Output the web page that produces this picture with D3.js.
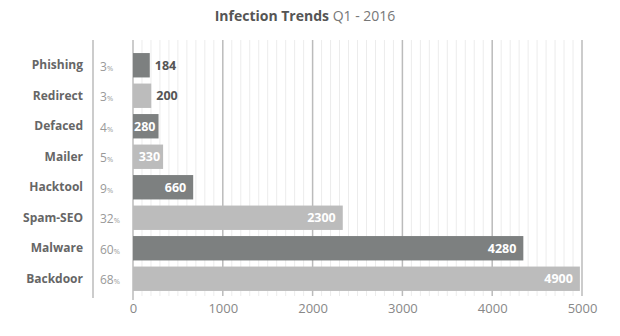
<!DOCTYPE html>
<html><head><meta charset="utf-8">
<script src="https://cdn.jsdelivr.net/npm/d3@7"></script>
<style>body{margin:0;background:#fff;font-family:"Open Sans",sans-serif;}</style>
</head><body><svg id="c" width="620" height="336"></svg>
<script>
const categories = ["Phishing","Redirect","Defaced","Mailer","Hacktool","Spam-SEO","Malware","Backdoor"];
const values = [184,200,280,330,660,2300,4280,4900];
const percents = [3,3,4,5,9,32,60,68];
const xTicks = [0,1000,2000,3000,4000,5000];

const svg = d3.select("#c");
const x = d3.scaleLinear().domain([0,5000]).range([133,582]);
const xb = d3.scaleLinear().domain([0,5000]).range([133,589]);
const y = d3.scaleBand().domain(categories).range([50,294]).paddingInner(0.2).paddingOuter(0.1);
const colors = ["#7d8080","#bcbcbc"];

// title
const t = svg.append("text").attr("x",305).attr("y",21).attr("text-anchor","middle")
  .style("font-size","14px").style("fill","#555");
t.append("tspan").style("font-weight","bold").text("Infection Trends");
t.append("tspan").style("fill","#777").text(" Q1 - 2016");

// minor gridlines
const minor = d3.range(100,5000,100).filter(v=>v%1000!==0);
svg.append("g").selectAll("line").data(minor).join("line")
  .attr("x1",d=>x(d)).attr("x2",d=>x(d)).attr("y1",40).attr("y2",296)
  .attr("stroke","#ececec").attr("stroke-width",1);

// major gridlines
svg.append("g").selectAll("line").data(xTicks).join("line")
  .attr("x1",d=>x(d)).attr("x2",d=>x(d)).attr("y1",40).attr("y2",d=>d===0?300:296)
  .attr("stroke","#bbb").attr("stroke-width",1.5);

// left separator line
svg.append("line").attr("x1",93).attr("x2",93).attr("y1",40).attr("y2",298)
  .attr("stroke","#bbb").attr("stroke-width",1.5);

// x axis labels
const xAxis = d3.axisBottom(x).tickValues(xTicks).tickSize(0).tickPadding(0).tickFormat(d3.format("d"));
const ax = svg.append("g").attr("transform","translate(0,301)").call(xAxis);
ax.select(".domain").remove();
ax.selectAll("text").style("font-size","13px").style("fill","#888").attr("dy","0.9em")
  .style("font-family","'Open Sans',sans-serif");

// bars
svg.append("g").selectAll("rect").data(values).join("rect")
  .attr("x",xb(0)).attr("y",(d,i)=>y(categories[i]))
  .attr("width",d=>xb(d)-xb(0)).attr("height",y.bandwidth())
  .attr("fill",(d,i)=>colors[i%2]);

// category labels
svg.append("g").selectAll("text").data(categories).join("text")
  .attr("x",83).attr("y",d=>y(d)+y.bandwidth()/2).attr("dy","0.35em")
  .attr("text-anchor","end").style("font-size","12px").style("font-weight","bold").style("fill","#666")
  .text(d=>d);

// percent labels
const pl = svg.append("g").selectAll("text").data(percents).join("text")
  .attr("x",100).attr("y",(d,i)=>y(categories[i])+y.bandwidth()/2).attr("dy","0.35em")
  .style("fill","#999");
pl.append("tspan").style("font-size","12px").text(d=>d);
pl.append("tspan").style("font-size","7.5px").text("%");

// value labels
svg.append("g").selectAll("text").data(values).join("text")
  .attr("x",d=> d<250 ? xb(d)+5 : xb(d)-(d<500?3:7))
  .attr("y",(d,i)=>y(categories[i])+y.bandwidth()/2).attr("dy","0.36em")
  .attr("text-anchor",d=> d<250 ? "start":"end")
  .style("font-size","12.5px").style("font-weight","bold")
  .style("fill",d=> d<250 ? "#555":"#fff")
  .text(d=>d);
</script></body></html>
